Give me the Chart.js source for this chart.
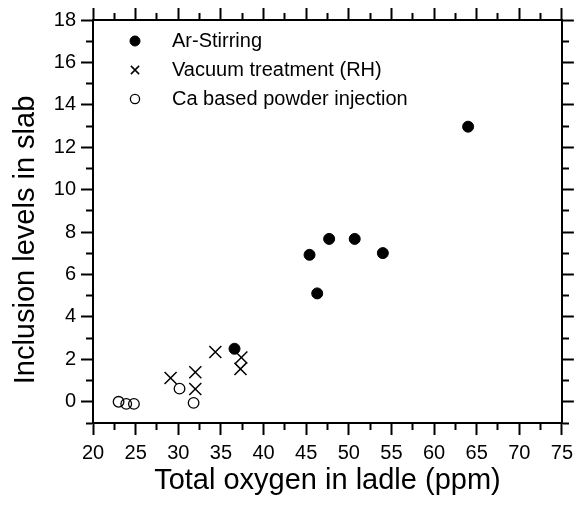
<!DOCTYPE html>
<html>
<head>
<meta charset="utf-8">
<script src="https://cdn.jsdelivr.net/npm/chart.js@4/dist/chart.umd.min.js"></script>
<style>
html,body{margin:0;padding:0;background:#fff;}
#wrap{width:579px;height:508px;}
</style>
</head>
<body>
<div id="wrap"><canvas id="c" width="579" height="508"></canvas></div>
<script>
// ---- data ----
const seriesNames = ['Ar-Stirring', 'Vacuum treatment (RH)', 'Ca based powder injection'];
const arX = [36.6, 45.4, 46.3, 47.7, 50.7, 54.0, 64.0];
const arY = [2.5, 6.93, 5.11, 7.68, 7.68, 7.01, 12.97];
const rhX = [29.1, 32.0, 32.0, 34.35, 37.4, 37.3];
const rhY = [1.12, 1.39, 0.60, 2.35, 2.09, 1.55];
const caX = [23.0, 23.9, 24.8, 30.15, 31.8];
const caY = [0.0, -0.1, -0.1, 0.62, -0.05];
const xTickLabels = [20, 25, 30, 35, 40, 45, 50, 55, 60, 65, 70, 75];
const yTickLabels = [0, 2, 4, 6, 8, 10, 12, 14, 16, 18];
const xTitle = 'Total oxygen in ladle (ppm)';
const yTitle = 'Inclusion levels in slab';

const FONT = '"Liberation Sans", Arial, Helvetica, sans-serif';
Chart.defaults.font.family = FONT;
Chart.defaults.color = '#000';

const pts = (xs, ys) => xs.map((x, i) => ({x: x, y: ys[i]}));
const isIn = (v, list) => list.some(t => Math.abs(t - v) < 1e-9);

function makeAxis(opts) {
  const majorList = opts.majors;
  return {
    type: 'linear',
    position: opts.position,
    min: opts.min, max: opts.max,
    afterFit: opts.afterFit,
    ticks: {
      display: opts.showLabels,
      stepSize: opts.step,
      autoSkip: false,
      maxRotation: 0,
      padding: opts.padding || 0,
      font: {size: 20},
      color: '#000',
      callback: (v) => isIn(v, majorList) ? String(v) : ''
    },
    grid: {
      drawOnChartArea: false,
      drawTicks: true,
      tickLength: 12,
      tickWidth: 2,
      tickColor: '#000',
      tickBorderDash: (ctx) => (ctx.tick && !isIn(ctx.tick.value, majorList)) ? [6, 100] : [],
      tickBorderDashOffset: (ctx) => (ctx.tick && !isIn(ctx.tick.value, majorList) && opts.outerFirst) ? 101 : 0
    },
    border: {display: true, color: '#000', width: 2},
    title: opts.title || {display: false}
  };
}

const insideLegend = {
  id: 'insideLegend',
  afterDraw(chart) {
    const {ctx, chartArea} = chart;
    const radii = [5, 5.8, 4.6];
    ctx.save();
    chart.data.datasets.forEach((ds, i) => {
      const y = chartArea.top + 21 + i * 29;
      const x = chartArea.left + 42;
      ctx.save();
      ctx.fillStyle = ds.backgroundColor;
      ctx.strokeStyle = ds.borderColor;
      ctx.lineWidth = ds.borderWidth;
      Chart.helpers.drawPoint(ctx, {pointStyle: ds.pointStyle, radius: radii[i], borderWidth: ds.borderWidth, rotation: 0}, x, y);
      ctx.restore();
      ctx.font = '20px ' + FONT;
      ctx.fillStyle = '#000';
      ctx.textAlign = 'left';
      ctx.textBaseline = 'middle';
      ctx.fillText(ds.label, chartArea.left + 79, y);
    });
    // y axis title
    ctx.font = '29px ' + FONT;
    ctx.fillStyle = '#000';
    ctx.textAlign = 'center';
    ctx.textBaseline = 'alphabetic';
    ctx.translate(33.5, (chartArea.top + chartArea.bottom) / 2 + 18.5);
    ctx.rotate(-Math.PI / 2);
    ctx.fillText(yTitle, 0, 0);
    ctx.restore();
  }
};

new Chart(document.getElementById('c'), {
  type: 'scatter',
  data: {
    datasets: [
      {label: seriesNames[0], data: pts(arX, arY), pointStyle: 'circle', pointRadius: 5.5,
       backgroundColor: '#000', borderColor: '#000', borderWidth: 1, xAxisID: 'x', yAxisID: 'y'},
      {label: seriesNames[1], data: pts(rhX, rhY), pointStyle: 'crossRot', pointRadius: 8.5,
       backgroundColor: 'rgba(0,0,0,0)', borderColor: '#000', borderWidth: 1.5, xAxisID: 'x', yAxisID: 'y'},
      {label: seriesNames[2], data: pts(caX, caY), pointStyle: 'circle', pointRadius: 5.3,
       backgroundColor: 'rgba(0,0,0,0)', borderColor: '#000', borderWidth: 1.3, xAxisID: 'x', yAxisID: 'y'}
    ]
  },
  options: {
    responsive: false,
    animation: false,
    events: [],
    layout: {padding: 0},
    plugins: {legend: {display: false}, tooltip: {enabled: false}},
    scales: {
      x: makeAxis({position: 'bottom', min: 20, max: 75, step: 2.5, majors: xTickLabels, showLabels: true,
        padding: 6, outerFirst: false, afterFit: (s) => { s.height = 85; },
        title: {display: true, text: xTitle, font: {size: 29}, color: '#000', padding: {top: 0, bottom: 10}}}),
      xTop: makeAxis({position: 'top', min: 20, max: 75, step: 2.5, majors: xTickLabels, showLabels: false,
        outerFirst: true, afterFit: (s) => { s.height = 20; }}),
      y: makeAxis({position: 'left', min: -1, max: 18, step: 1, majors: yTickLabels, showLabels: true,
        padding: 5, outerFirst: true, afterFit: (s) => { s.width = 93; }}),
      yRight: makeAxis({position: 'right', min: -1, max: 18, step: 1, majors: yTickLabels, showLabels: false,
        outerFirst: false, afterFit: (s) => { s.width = 15; }})
    }
  },
  plugins: [insideLegend]
});
</script>
</body>
</html>
